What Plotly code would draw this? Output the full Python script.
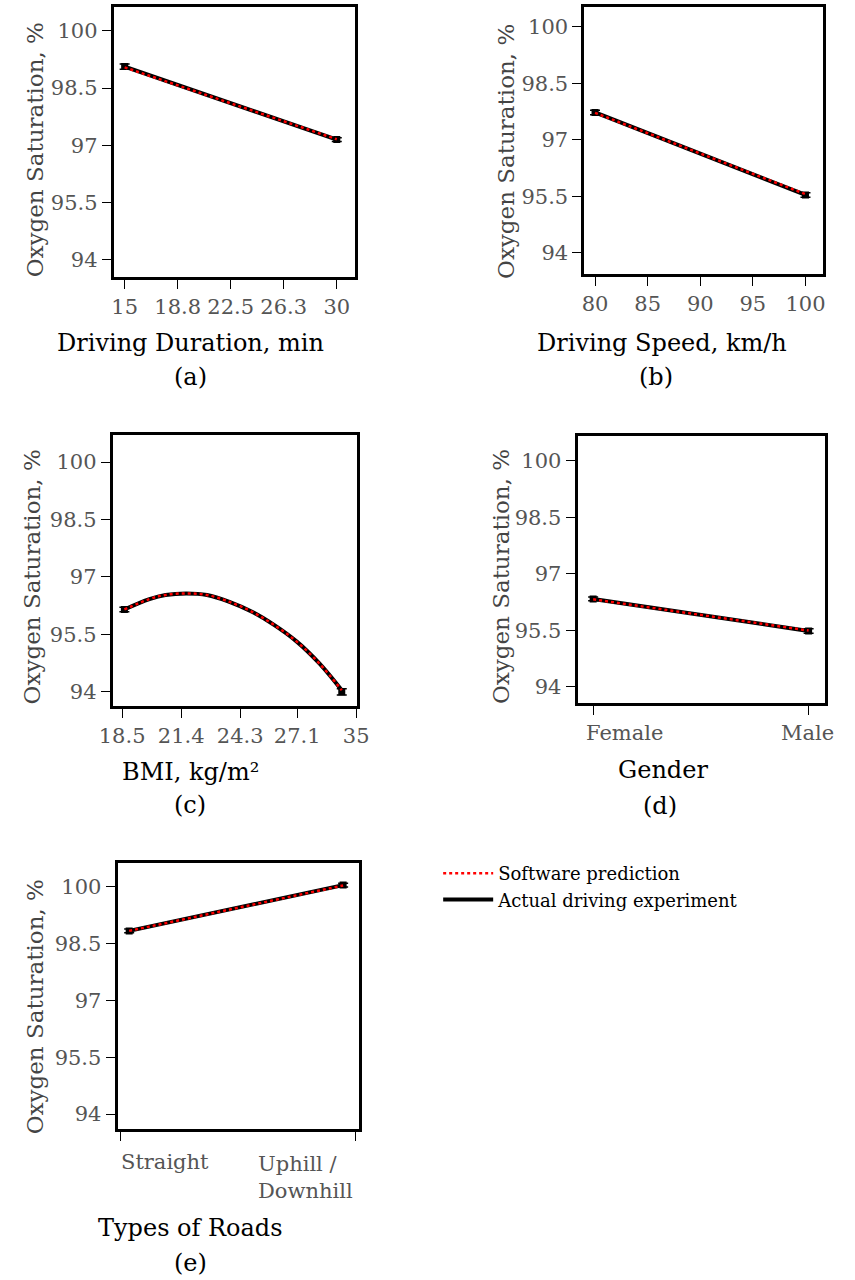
import plotly.graph_objects as go

# ---------------- data ----------------
yticks = [94, 95.5, 97, 98.5, 100]
ytick_text = ["94", "95.5", "97", "98.5", "100"]

# (a) Driving duration
duration_x = [15, 30]
duration_pred = [99.04, 97.16]
duration_act = [99.06, 97.15]
duration_err = [0.07, 0.05]
duration_ticks = [15, 18.75, 22.5, 26.25, 30]
duration_tick_text = ["15", "18.8", "22.5", "26.3", "30"]

# (b) Driving speed
speed_x = [80, 100]
speed_pred = [97.72, 95.56]
speed_act = [97.73, 95.54]
speed_err = [0.06, 0.06]
speed_ticks = [80, 85, 90, 95, 100]
speed_tick_text = ["80", "85", "90", "95", "100"]

# (c) BMI (curve)
bmi_x = [18.61, 19.84, 20.63, 21.65, 22.67, 23.77, 24.88, 25.98, 27.08, 28.19, 29.29]
bmi_pred = [96.15, 96.42, 96.53, 96.57, 96.53, 96.35, 96.09, 95.74, 95.31, 94.74, 94.04]
bmi_act_curve = [96.15, 96.42, 96.53, 96.57, 96.53, 96.35, 96.09, 95.74, 95.31, 94.74, 94.04]
bmi_end_x = [18.61, 29.29]
bmi_act = [96.15, 94.0]
bmi_err = [0.06, 0.08]
bmi_ticks = [18.5, 21.4, 24.3, 27.1, 30]
bmi_tick_text = ["18.5", "21.4", "24.3", "27.1", "35"]

# (d) Gender
gender = ["Female", "Male"]
gender_x = [0, 1]
gender_pred = [96.32, 95.49]
gender_act = [96.33, 95.48]
gender_err = [0.05, 0.06]

# (e) Types of roads
roads = ["Straight", "Uphill /<br>Downhill"]
roads_x = [0, 1]
roads_pred = [98.84, 100.04]
roads_act = [98.84, 100.05]
roads_err = [0.05, 0.05]
roads_tick_pos = [-0.042, 1.06]

FONT = "DejaVu Serif"
W, H = 855, 1280

fig = go.Figure()


def axname(i, kind):
    return kind if i == 1 else f"{kind}{i}"


def add_panel(i, line_x, pred, act_line, end_x, act, err, spline=False):
    xa, ya = axname(i, "x"), axname(i, "y")
    shape = "spline" if spline else "linear"
    fig.add_trace(go.Scatter(
        x=line_x, y=act_line, mode="lines", xaxis=xa, yaxis=ya,
        line=dict(color="black", width=4, shape=shape),
        name="Actual driving experiment", legendgroup="act",
        showlegend=(i == 1), legendrank=2))
    fig.add_trace(go.Scatter(
        x=end_x, y=act, mode="markers", xaxis=xa, yaxis=ya,
        marker=dict(symbol="square", size=7, color="black"),
        error_y=dict(type="data", array=err, visible=True, color="black",
                     thickness=1.5, width=5),
        legendgroup="act", showlegend=False))
    fig.add_trace(go.Scatter(
        x=line_x, y=pred, mode="lines", xaxis=xa, yaxis=ya,
        line=dict(color="red", width=2.5, dash="dot", shape=shape),
        name="Software prediction", legendgroup="pred",
        showlegend=(i == 1), legendrank=1))


add_panel(1, duration_x, duration_pred, duration_act, duration_x, duration_act, duration_err)
add_panel(2, speed_x, speed_pred, speed_act, speed_x, speed_act, speed_err)
add_panel(3, bmi_x, bmi_pred, bmi_act_curve, bmi_end_x, bmi_act, bmi_err, spline=True)
add_panel(4, gender_x, gender_pred, gender_act, gender_x, gender_act, gender_err)
add_panel(5, roads_x, roads_pred, roads_act, roads_x, roads_act, roads_err)


def px_dom_x(a, b):
    return [a / W, b / W]


def px_dom_y(top, bottom):
    return [1 - bottom / H, 1 - top / H]


common = dict(showline=True, linewidth=3, linecolor="black", mirror=True,
              ticks="outside", ticklen=9, tickwidth=1, tickcolor="black",
              showgrid=False, zeroline=False,
              tickfont=dict(family=FONT, size=21, color="#555555"))

panels = [
    # x-domain px, y-domain px, x range, y range, tickvals, ticktext
    ((103, 352), (7, 277), [14.23, 31.28], [93.555, 100.62], duration_ticks, duration_tick_text),
    ((589, 835), (7, 274), [78.99, 101.63], [93.44, 100.53], speed_ticks, speed_tick_text),
    ((102, 354), (435, 706), [18.04, 30.03], [93.63, 100.705], bmi_ticks, bmi_tick_text),
    ((582, 837), (436, 703), [-0.072, 1.074], [93.567, 100.656], gender_x, ["", ""]),
    ((107, 356), (863, 1129), [-0.054, 1.073], [93.604, 100.634], roads_tick_pos, ["", ""]),
]

layout_axes = {}
for i, (dx, dy, xr, yr, tv, tt) in enumerate(panels, start=1):
    xk = "xaxis" if i == 1 else f"xaxis{i}"
    yk = "yaxis" if i == 1 else f"yaxis{i}"
    layout_axes[xk] = dict(domain=px_dom_x(*dx), range=xr, tickvals=tv, ticktext=tt,
                           anchor=axname(i, "y"), **common)
    layout_axes[yk] = dict(domain=px_dom_y(*dy), range=yr, tickvals=yticks, ticktext=ytick_text,
                           anchor=axname(i, "x"), **common)

fig.update_layout(**layout_axes)

ann = []


def text(x, y, s, size=24, color="black", angle=0, xanchor="center", align="center"):
    ann.append(dict(x=x / W, y=1 - y / H, xref="paper", yref="paper", text=s,
                    showarrow=False, textangle=angle, xanchor=xanchor, yanchor="middle",
                    align=align, font=dict(family=FONT, size=size, color=color)))


# x-axis titles
text(182.5, 343, "Driving Duration, min")
text(669, 343, "Driving Speed, km/h")
text(182.5, 772, "BMI, kg/m²")
text(670, 770, "Gender")
text(182.5, 1228, "Types of Roads")
# captions
text(182, 377, "(a)")
text(663, 377, "(b)")
text(182, 805, "(c)")
text(667, 806, "(d)")
text(182, 1263, "(e)")
# y-axis titles
for (xx, yy) in [(22, 150), (508, 151), (19, 577), (503, 577), (22, 1007)]:
    text(xx, yy, "Oxygen Saturation, %", size=23, color="#444444", angle=-90)
# category tick labels
text(630, 733, gender[0], size=21, color="#555555")
text(819, 733, gender[1], size=21, color="#555555")
text(156, 1162, roads[0], size=21, color="#555555")
text(250, 1177, roads[1], size=21, color="#555555", xanchor="left", align="left")

fig.update_layout(
    width=W, height=H, margin=dict(l=0, r=0, t=0, b=0),
    paper_bgcolor="white", plot_bgcolor="white",
    annotations=ann,
    legend=dict(x=438 / W, y=1 - 855 / H, xanchor="left", yanchor="top",
                font=dict(family=FONT, size=18, color="black"),
                bgcolor="rgba(0,0,0,0)", itemwidth=50, tracegroupgap=0),
)

fig.write_html("out.html", config={"displayModeBar": False},
               post_script="document.body.style.margin='0';")
